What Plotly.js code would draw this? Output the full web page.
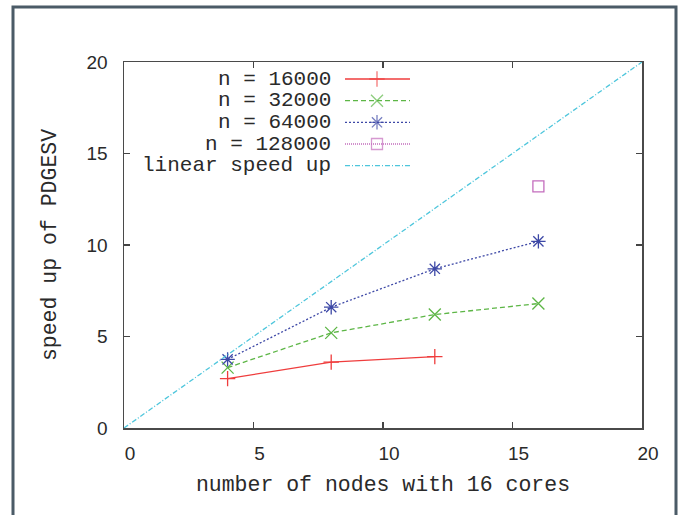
<!DOCTYPE html>
<html>
<head>
<meta charset="utf-8">
<script src="https://cdn.plot.ly/plotly-3.0.1.min.js"></script>
<style>html,body{margin:0;padding:0;background:#fff;}#chart{width:681px;height:515px;}</style>
</head>
<body>
<div id="chart"></div>
<script>
// ---- data ----
const seriesNames = ["n = 16000", "n = 32000", "n = 64000", "n = 128000", "linear speed up"];
const nodes16 = [4, 8, 12];
const speed16 = [2.7, 3.6, 3.9];
const nodes32 = [4, 8, 12, 16];
const speed32 = [3.3, 5.2, 6.2, 6.8];
const nodes64 = [4, 8, 12, 16];
const speed64 = [3.75, 6.6, 8.7, 10.2];
const nodes128 = [16];
const speed128 = [13.2];
const linearX = [0, 20];
const linearY = [0, 20];
const tickVals = [0, 5, 10, 15, 20];

// ---- styles ----
const styles = [
  {color: "#ef3d3d", dash: "solid", symbol: "cross-thin-open", size: 11},
  {color: "#5db646", dash: "5px,3px", symbol: "x-thin-open", size: 12},
  {color: "#3d48a6", dash: "2px,2px", symbol: "asterisk-open", size: 12},
  {color: "#c46dbd", dash: "1px,1px", symbol: "square-open", size: 11},
  {color: "#4ec6dc", dash: "5px,2px,1px,2px", symbol: null, size: 0}
];
const xs = [nodes16, nodes32, nodes64, nodes128, linearX];
const ys = [speed16, speed32, speed64, speed128, linearY];

function makeTrace(x, y, s, sizes, extra) {
  const t = {
    x: x, y: y, type: "scatter",
    mode: s.symbol ? "lines+markers" : "lines",
    line: {color: s.color, width: 1.3, dash: s.dash},
    showlegend: false, hoverinfo: "skip"
  };
  if (s.symbol) t.marker = {symbol: s.symbol, size: sizes, line: {color: s.color, width: 1.3}};
  return Object.assign(t, extra || {});
}

const traces = [];
for (let i = 0; i < xs.length; i++) {
  traces.push(makeTrace(xs[i], ys[i], styles[i], styles[i].size, {name: seriesNames[i]}));
}

// ---- custom gnuplot-style legend (text left, sample right) ----
const L = 124, T = 62, PW = 518, PH = 366;
const px2x = p => (p - L) / PW;
const py2y = p => (T + PH - p) / PH;
const rowY = [79, 100.7, 122.3, 144, 165.7];
const annotations = [];
for (let i = 0; i < seriesNames.length; i++) {
  const s = styles[i];
  const yy = py2y(rowY[i]);
  annotations.push({
    xref: "paper", yref: "paper", x: px2x(333), y: yy, xanchor: "right", yanchor: "middle",
    text: seriesNames[i], showarrow: false,
    font: {family: "Liberation Mono, Courier New, monospace", size: 21, color: "#2a2a2a"}
  });
  traces.push(makeTrace([px2x(345), px2x(377), px2x(410)], [yy, yy, yy], s, [0, s.size, 0],
    {xaxis: "x2", yaxis: "y2"}));
}

const monoFont = {family: "Liberation Mono, Courier New, monospace", size: 21.5, color: "#2a2a2a"};
const tickFont = {family: "Liberation Sans, Arial, sans-serif", size: 19, color: "#2a2a2a"};

const layout = {
  width: 681, height: 515,
  margin: {l: L, r: 681 - L - PW, t: T, b: 515 - T - PH, pad: 0},
  paper_bgcolor: "#ffffff", plot_bgcolor: "#ffffff",
  showlegend: false,
  xaxis: {
    range: [0, 20], tickvals: tickVals, ticks: "inside", ticklen: 6, tickwidth: 1.5, tickcolor: "#444",
    showline: true, linecolor: "#4a4a4a", linewidth: 1.5, mirror: "ticks", showgrid: false, zeroline: false,
    tickfont: tickFont, ticklabelstandoff: 8, ticklabelshift: 6,
    title: {text: "number of nodes with 16 cores", font: monoFont, standoff: 12},
    fixedrange: true
  },
  yaxis: {
    range: [0, 20], tickvals: tickVals, ticks: "inside", ticklen: 6, tickwidth: 1.5, tickcolor: "#444",
    showline: true, linecolor: "#4a4a4a", linewidth: 1.5, mirror: "ticks", showgrid: false, zeroline: false,
    tickfont: tickFont, ticklabelstandoff: 11,
    title: {text: "speed up of PDGESV", font: monoFont, standoff: 24},
    fixedrange: true
  },
  xaxis2: {overlaying: "x", range: [0, 1], visible: false, fixedrange: true},
  yaxis2: {overlaying: "y", range: [0, 1], visible: false, fixedrange: true},
  annotations: annotations,
  shapes: [{
    type: "rect", xref: "paper", yref: "paper",
    x0: px2x(13), x1: px2x(676), y0: py2y(530), y1: py2y(7),
    line: {color: "#4b5b67", width: 3}, fillcolor: "rgba(0,0,0,0)", layer: "above"
  }]
};

Plotly.newPlot("chart", traces, layout, {staticPlot: true, displayModeBar: false});
</script>
</body>
</html>
